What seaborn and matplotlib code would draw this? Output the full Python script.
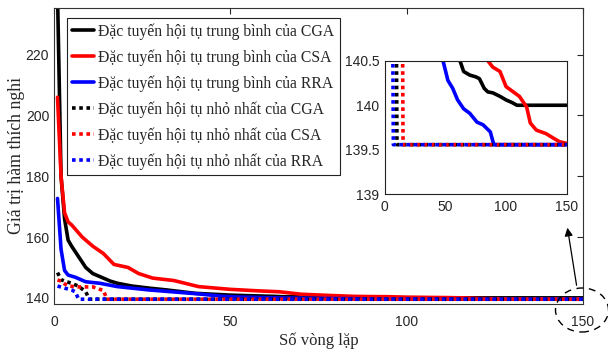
import matplotlib
matplotlib.use("Agg")
import matplotlib.pyplot as plt
import seaborn as sns
import pandas as pd
from matplotlib.patches import Ellipse, FancyArrowPatch

sns.set_style("white")
plt.rcParams["font.family"] = ["Liberation Sans", "DejaVu Sans"]

SERIF = ["Liberation Serif", "DejaVu Serif"]

# Convergence curves: (iteration, objective value) pairs
cga_avg_it = [1, 2, 3, 4, 5, 7, 9, 11, 13, 16, 18, 22, 27, 32, 40, 50, 62, 65, 70, 75, 78, 82, 85, 89, 95, 100, 105, 109, 150]
cga_avg_val = [240, 180, 166, 159, 157, 153.5, 150, 148, 147, 145.5, 144.8, 143.9, 143.2, 142.6, 141.5, 140.9,
               140.5, 140.38, 140.34, 140.32, 140.3, 140.19, 140.15, 140.14, 140.1, 140.06, 140.03, 140.0, 140.0]

csa_avg_it = [1, 2, 3, 4, 5, 8, 11, 14, 17, 21, 24, 28, 34, 41, 50, 58, 64, 70, 78, 85, 89, 95, 100, 106, 111,
              117, 120, 125, 133, 139, 144, 150]
csa_avg_val = [206, 180, 168, 165, 164, 160, 157, 154.6, 151, 150, 148, 146.5, 145.7, 143.7, 142.8, 142.3, 142,
               141.2, 140.8, 140.5, 140.43, 140.38, 140.21, 140.15, 140.1, 139.98, 139.8, 139.72, 139.68, 139.63,
               139.59, 139.57]

rra_avg_it = [1, 2, 3, 4, 6, 9, 13, 18, 27, 41, 48, 52, 56, 60, 65, 70, 76, 81, 87, 89, 90, 150]
rra_avg_val = [172.7, 156, 149, 147.5, 146.8, 145.3, 144.8, 143.7, 142.6, 141.3, 140.5, 140.28, 140.19, 140.06,
               139.96, 139.91, 139.81, 139.78, 139.70, 139.6, 139.556, 139.556]

cga_min_it = [1, 2, 3, 5, 7, 9, 10, 150]
cga_min_val = [148.3, 146, 145.5, 144.8, 143.8, 142, 139.556, 139.556]

csa_min_it = [1, 2, 3, 4, 6, 11, 13, 14, 15, 150]
csa_min_val = [145.9, 145.5, 144.6, 144, 143.6, 143.6, 142.8, 142.5, 139.556, 139.556]

rra_min_it = [1, 3, 5, 6, 7, 150]
rra_min_val = [143.9, 143.2, 142.6, 142, 139.556, 139.556]

labels = [
    "Đặc tuyến hội tụ trung bình của CGA",
    "Đặc tuyến hội tụ trung bình của CSA",
    "Đặc tuyến hội tụ trung bình của RRA",
    "Đặc tuyến hội tụ nhỏ nhất của CGA",
    "Đặc tuyến hội tụ nhỏ nhất của CSA",
    "Đặc tuyến hội tụ nhỏ nhất của RRA",
]
series = [
    (cga_avg_it, cga_avg_val, "black", "-"),
    (csa_avg_it, csa_avg_val, "#ff0000", "-"),
    (rra_avg_it, rra_avg_val, "#0000ff", "-"),
    (cga_min_it, cga_min_val, "black", (0, (1, 1))),
    (csa_min_it, csa_min_val, "#ff0000", (0, (1, 1))),
    (rra_min_it, rra_min_val, "#0000ff", (0, (1, 1))),
]

fig = plt.figure(figsize=(6.08, 3.58), dpi=100)
ax = fig.add_axes([0.0888, 0.151, 0.870, 0.827])
axin = fig.add_axes([0.633, 0.458, 0.299, 0.372])

for target in (ax, axin):
    for (it, val, col, ls), lab in zip(series, labels):
        df = pd.DataFrame({"iter": it, "val": val})
        sns.lineplot(data=df, x="iter", y="val", ax=target, color=col, linestyle=ls,
                     linewidth=2.6, estimator=None, sort=True, legend=False)

spine_col = "#333333"
ax.set_xlim(0, 150)
ax.set_ylim(138, 235.4)
ax.set_xticks([0, 50, 100, 150])
ax.set_yticks([140, 160, 180, 200, 220])
ax.tick_params(direction="in", top=True, right=True, length=4, width=0.8,
               labelsize=10, colors="#262626")
ax.tick_params(axis="x", pad=8)
ax.tick_params(axis="y", pad=3.5)
for s in ax.spines.values():
    s.set_color(spine_col)
    s.set_linewidth(0.8)
ax.set_xlabel("Số vòng lặp", fontsize=12, family=SERIF, labelpad=2.5)
ax.set_ylabel("Giá trị hàm thích nghi", fontsize=12.8, family=SERIF, labelpad=0.5)

axin.set_xlim(0, 150)
axin.set_ylim(139, 140.5)
axin.set_xticks([0, 50, 100, 150])
axin.set_yticks([139, 139.5, 140, 140.5])
axin.set_yticklabels(["139", "139.5", "140", "140.5"])
axin.set_xlabel("")
axin.set_ylabel("")
axin.set_facecolor("white")
axin.tick_params(direction="in", length=3, width=0.8, labelsize=10, colors="#262626", pad=4)
for s in axin.spines.values():
    s.set_color("#222222")
    s.set_linewidth(0.8)

handles = [plt.Line2D([], [], color=c, linestyle=ls, linewidth=2.6) for (_, _, c, ls) in series]
leg = fig.legend(handles, labels, loc="upper left", bbox_to_anchor=(67 / 608, 1 - 18 / 358),
                 prop={"family": SERIF, "size": 11.3}, frameon=True, fancybox=False,
                 edgecolor="#222222", framealpha=1, handlelength=1.4, handletextpad=0.25,
                 labelspacing=0.6, borderpad=0.35, borderaxespad=0)
leg.get_frame().set_linewidth(0.8)

# dashed ellipse around the last main x tick and arrow pointing to the inset
W, H = 608, 358
fig.add_artist(Ellipse((582 / W, 1 - 310 / H), 53 / W, 44 / H, transform=fig.transFigure,
                       fill=False, edgecolor="black", linestyle=(0, (5, 4)), linewidth=1.0))
fig.add_artist(FancyArrowPatch((577 / W, 1 - 288 / H), (567 / W, 1 - 225 / H),
                               transform=fig.transFigure, arrowstyle="-|>", mutation_scale=12,
                               color="black", linewidth=0.9))

fig.savefig("out.png", dpi=100)
